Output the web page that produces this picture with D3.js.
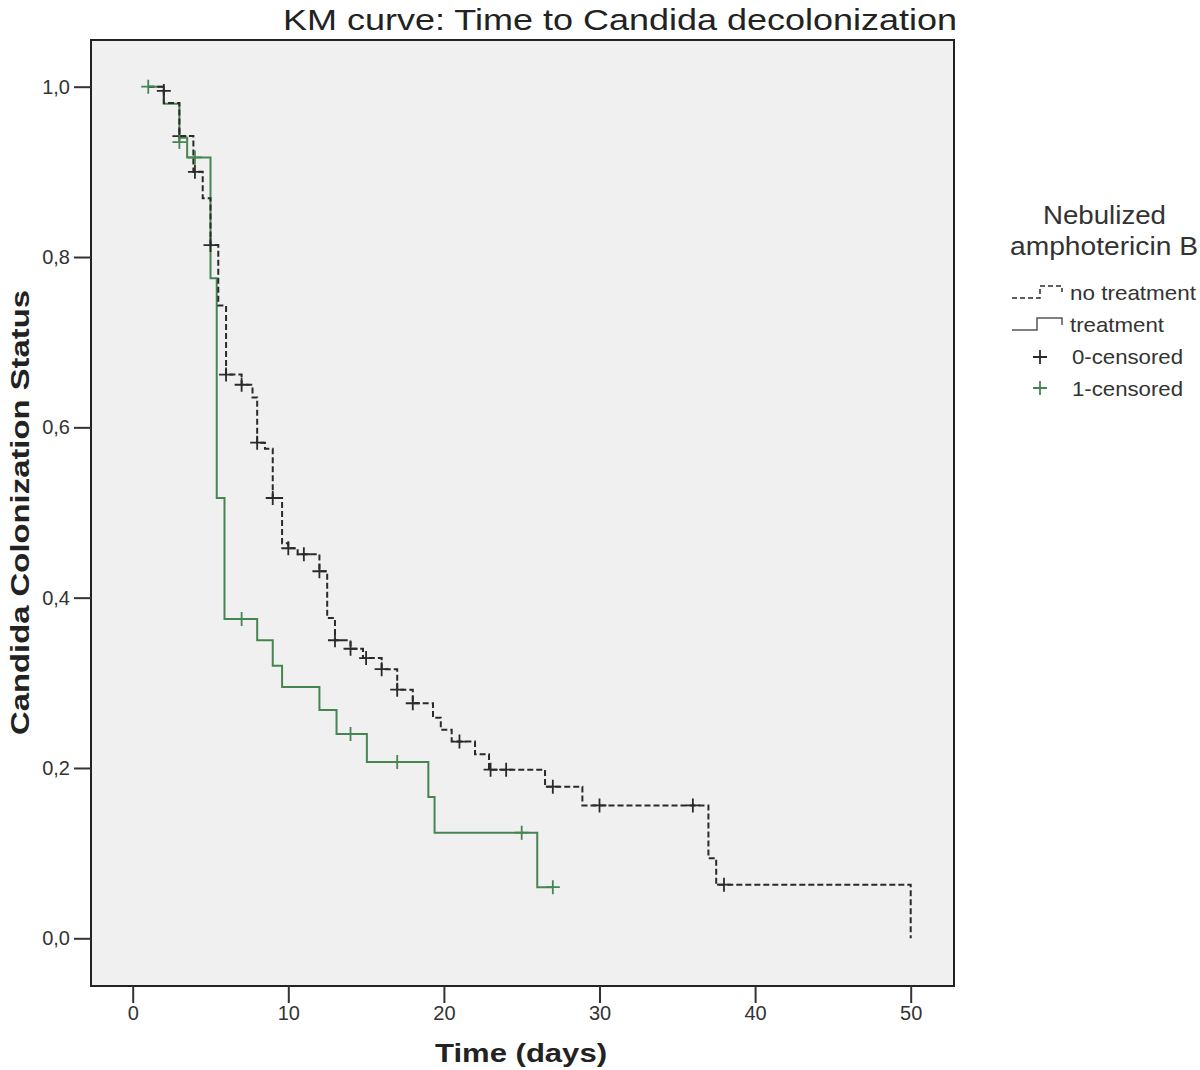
<!DOCTYPE html>
<html><head><meta charset="utf-8">
<script src="https://cdn.jsdelivr.net/npm/d3@7"></script>
<style>body{margin:0;background:#fff}svg{display:block}</style>
</head><body><svg id="c" width="1200" height="1070"></svg>
<script>
// ---- data ----
const xTicks = [0, 10, 20, 30, 40, 50];
const yTicks = [0, 0.2, 0.4, 0.6, 0.8, 1.0];
const yTickLabels = ["0,0", "0,2", "0,4", "0,6", "0,8", "1,0"];

// no treatment: step times and survival after each step
const noTreatTimes = [1, 2, 3, 3.9, 4.5, 5, 5.5, 6, 7, 7.7, 8, 8.5, 9, 9.6, 10, 10.6, 12, 12.5, 13, 14, 14.8, 16, 17, 18, 19.3, 19.8, 20.5, 22, 22.9, 26.5, 28.9, 37, 37.5, 50];
const noTreatSurv  = [1.0, 0.981, 0.942, 0.90, 0.869, 0.814, 0.743, 0.662, 0.650, 0.635, 0.582, 0.575, 0.517, 0.464, 0.458, 0.451, 0.431, 0.376, 0.350, 0.340, 0.329, 0.316, 0.292, 0.276, 0.259, 0.245, 0.231, 0.216, 0.198, 0.178, 0.156, 0.094, 0.063, 0.0];
const noTreatCensTimes = [2, 3, 4, 5, 6, 7, 8, 9, 10, 11, 12, 13, 14, 15, 16, 17, 18, 21, 23, 24, 27, 30, 36, 38];
const noTreatCensSurv  = [0.995, 0.942, 0.90, 0.814, 0.662, 0.650, 0.582, 0.517, 0.458, 0.451, 0.431, 0.350, 0.340, 0.329, 0.316, 0.292, 0.276, 0.231, 0.198, 0.198, 0.178, 0.156, 0.156, 0.063];

// treatment
const treatTimes = [1, 2, 3, 3.5, 5, 5.4, 5.9, 8, 9, 9.6, 12, 13.1, 15.05, 19, 19.4, 26, 27];
const treatSurv  = [1.0, 0.98, 0.94, 0.917, 0.775, 0.517, 0.375, 0.350, 0.320, 0.295, 0.268, 0.240, 0.207, 0.166, 0.124, 0.060, 0.060];
const treatCensTimes = [1, 3, 4, 7, 14, 17, 25, 27];
const treatCensSurv  = [1.0, 0.935, 0.917, 0.375, 0.240, 0.207, 0.124, 0.060];

const legendLabels = ["no treatment", "treatment", "0-censored", "1-censored"];

// ---- drawing ----
const svg = d3.select("#c");
const FONT = "'Liberation Sans',Arial,sans-serif";
const frame = {l: 91, r: 954, t: 40, b: 986};
const x = d3.scaleLinear().domain([0, 50]).range([132.7, 910.7]);
const y = d3.scaleLinear().domain([0, 1]).range([938.3, 86.7]);
const greenC = "#468552", darkC = "#2a2a2a";

svg.append("rect").attr("x", frame.l).attr("y", frame.t)
  .attr("width", frame.r - frame.l).attr("height", frame.b - frame.t)
  .attr("fill", "#f0f0f0").attr("stroke", "#222").attr("stroke-width", 2);

// axes
const xAxis = svg.append("g").attr("transform", `translate(0,${frame.b})`)
  .call(d3.axisBottom(x).tickValues(xTicks).tickSize(17).tickSizeOuter(0).tickPadding(3));
xAxis.select(".domain").remove();
xAxis.selectAll("line").attr("stroke", "#333").attr("stroke-width", 2);
xAxis.selectAll("text").attr("font-family", FONT).attr("font-size", 20).attr("fill", "#333");

const yAxis = svg.append("g").attr("transform", `translate(${frame.l},0)`)
  .call(d3.axisLeft(y).tickValues(yTicks).tickFormat((d, i) => yTickLabels[i]).tickSize(17).tickSizeOuter(0).tickPadding(4));
yAxis.select(".domain").remove();
yAxis.selectAll("line").attr("stroke", "#333").attr("stroke-width", 2);
yAxis.selectAll("text").attr("font-family", FONT).attr("font-size", 20).attr("fill", "#333");

// curves
const line = d3.line().x(d => x(d[0])).y(d => y(d[1])).curve(d3.curveStepAfter);
const g = svg.append("g");
g.append("path").datum(treatTimes.map((t, i) => [t, treatSurv[i]]))
  .attr("d", line).attr("fill", "none").attr("stroke", greenC).attr("stroke-width", 2);
g.append("path").datum(noTreatTimes.map((t, i) => [t, noTreatSurv[i]]))
  .attr("d", line).attr("fill", "none").attr("stroke", darkC).attr("stroke-width", 2)
  .attr("stroke-dasharray", "6,3");

function cross(sel, cx, cy, color) {
  const a = 7;
  sel.append("path").attr("d", `M${cx - a},${cy}H${cx + a}M${cx},${cy - a}V${cy + a}`)
    .attr("stroke", color).attr("stroke-width", 1.8).attr("fill", "none");
}
noTreatCensTimes.forEach((t, i) => cross(g, x(t), y(noTreatCensSurv[i]), darkC));
treatCensTimes.forEach((t, i) => cross(g, x(t), y(treatCensSurv[i]), greenC));

// title and axis labels
svg.append("text").attr("x", 283).attr("y", 30).attr("textLength", 674).attr("lengthAdjust", "spacingAndGlyphs")
  .attr("font-family", FONT).attr("font-size", 30).attr("fill", "#222").text("KM curve: Time to Candida decolonization");
svg.append("text").attr("transform", "translate(29,735) rotate(-90)").attr("textLength", 445).attr("lengthAdjust", "spacingAndGlyphs")
  .attr("font-family", FONT).attr("font-size", 26).attr("font-weight", "bold").attr("fill", "#222").text("Candida Colonization Status");
svg.append("text").attr("x", 435).attr("y", 1062).attr("textLength", 172).attr("lengthAdjust", "spacingAndGlyphs")
  .attr("font-family", FONT).attr("font-size", 25).attr("font-weight", "bold").attr("fill", "#222").text("Time (days)");

// legend
const lg = svg.append("g");
lg.append("text").attr("x", 1043).attr("y", 224).attr("textLength", 123).attr("lengthAdjust", "spacingAndGlyphs")
  .attr("font-family", FONT).attr("font-size", 26).attr("fill", "#333").text("Nebulized");
lg.append("text").attr("x", 1010).attr("y", 255).attr("textLength", 188).attr("lengthAdjust", "spacingAndGlyphs")
  .attr("font-family", FONT).attr("font-size", 26).attr("fill", "#333").text("amphotericin B");
lg.append("path").attr("d", "M1012,298H1040V286H1062V292").attr("fill", "none").attr("stroke", darkC)
  .attr("stroke-width", 1.5).attr("stroke-dasharray", "5,3");
lg.append("path").attr("d", "M1012,330H1037V318H1062V325").attr("fill", "none").attr("stroke", "#555").attr("stroke-width", 1.5);
cross(lg, 1040, 357, darkC);
cross(lg, 1040, 388, greenC);
const legW = [126, 94, 111, 111];
const legX = [1070, 1070, 1072, 1072];
const legY = [300, 332, 364, 396];
legendLabels.forEach((s, i) => {
  lg.append("text").attr("x", legX[i]).attr("y", legY[i]).attr("textLength", legW[i]).attr("lengthAdjust", "spacingAndGlyphs")
    .attr("font-family", FONT).attr("font-size", 21).attr("fill", "#333").text(s);
});
</script></body></html>
